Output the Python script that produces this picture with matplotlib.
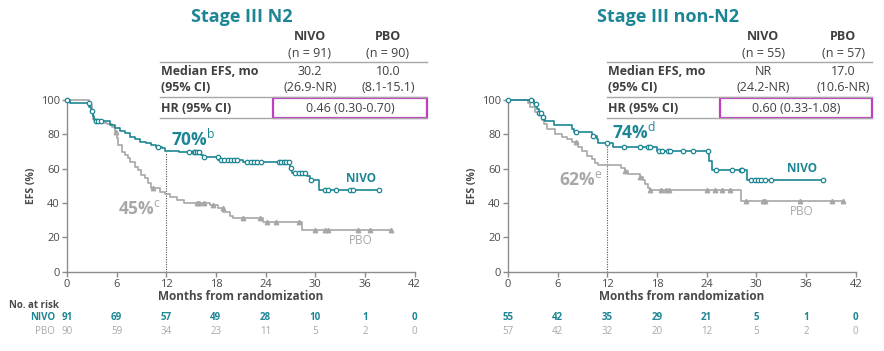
import numpy as np
import matplotlib
matplotlib.use("Agg")
import matplotlib.pyplot as plt
from matplotlib import transforms
from matplotlib.patches import Rectangle

plt.rcParams['font.family'] = ['Open Sans', 'DejaVu Sans']
plt.rcParams['mathtext.fontset'] = 'custom'
plt.rcParams['mathtext.rm'] = 'Open Sans'

W, H = 884, 351
TEAL = '#1d8694'
GRAY = '#a7a7a7'
DARK = '#404040'
MAGENTA = '#c03ec0'

# ---- Stage III N2 ----
n2_nivo_t = [0, 0.4, 2.7, 2.9, 3.1, 3.3, 3.5, 5.2, 5.8, 6.4, 7.0, 7.6, 8.2, 8.8, 9.6, 10.2,
             10.8, 11.45, 11.85, 13.5, 16.2, 16.4, 18.3, 21.3, 27.0, 27.2, 29.0, 29.4, 30.4, 37.7]
n2_nivo_s = [100, 98.5, 96, 93.5, 90.5, 88.5, 87.5, 85.5, 83.8, 82, 80.5, 78.6, 77.5, 75.8, 74.8, 73.8,
             72.8, 71.9, 70.5, 69.5, 68, 66.6, 65.3, 63.8, 60.6, 57.5, 55.5, 53.4, 47.8, 47.8]
n2_nivo_cens = [0, 2.6, 3.0, 3.5, 3.8, 4.1, 11.0, 14.7, 15.3, 15.5, 15.7, 16.0, 16.5, 18.2, 18.6, 19.0,
                19.4, 19.8, 20.2, 20.5, 21.7, 22.2, 22.6, 23.0, 23.5, 25.6, 25.9, 26.2, 26.5, 26.8,
                27.1, 27.6, 28.0, 28.4, 28.8, 29.5, 31.2, 31.5, 32.5, 34.2, 34.6, 37.7]
n2_pbo_t = [0, 2.6, 3.0, 3.2, 3.5, 4.5, 4.8, 5.4, 5.8, 6.0, 6.2, 6.6, 7.0, 7.4, 7.6, 8.2, 8.6, 9.0,
            9.4, 9.8, 10.2, 11.2, 11.85, 12.45, 13.3, 14.1, 17.3, 18.3, 18.9, 19.7, 20.1, 23.7, 28.4, 39.1]
n2_pbo_s = [100, 97, 93, 89, 87, 86.5, 86, 84.5, 81.5, 77.7, 73.8, 69.9, 68, 66, 64, 61.2, 59.2, 56.3,
            54.4, 51.5, 48.6, 46.6, 45, 43.7, 41.8, 39.8, 38.8, 36.9, 35, 32.6, 31.5, 29.1, 24.3, 24.3]
n2_pbo_cens = [5.9, 10.4, 15.7, 16.0, 16.5, 17.7, 18.8, 21.3, 23.3, 24.2, 25.2, 28.0, 30.0, 31.2,
               31.6, 35.2, 36.6, 39.1]
n2_risk_nivo = [91, 69, 57, 49, 28, 10, 1, 0]
n2_risk_pbo = [90, 59, 34, 23, 11, 5, 2, 0]

# ---- Stage III non-N2 ----
non_nivo_t = [0, 3.1, 3.5, 3.8, 4.1, 4.3, 4.5, 5.5, 7.7, 8.0, 10.1, 10.8, 10.9, 12.7, 18.0, 24.3,
              24.7, 28.9, 38.1]
non_nivo_s = [100, 97.5, 95, 92.5, 90, 88.5, 87.8, 85.7, 83.4, 81.3, 79.2, 77, 74.8, 72.5, 70.2, 64.5,
              59.2, 53.6, 53.6]
non_nivo_cens = [0, 2.8, 3.4, 3.8, 4.0, 4.2, 8.2, 10.3, 12.0, 14.0, 15.9, 16.9, 17.2, 18.3, 18.6, 19.3,
                 19.6, 21.1, 22.4, 24.2, 25.1, 27.0, 28.1, 28.3, 29.4, 29.8, 30.2, 30.6, 31.1, 31.8, 38.1]
non_pbo_t = [0, 2.4, 2.6, 3.3, 3.9, 4.1, 4.3, 4.7, 5.7, 6.5, 7.1, 7.7, 8.5, 8.9, 9.5, 10.1, 10.5, 10.9,
             13.7, 14.1, 14.5, 16.0, 16.3, 16.6, 16.9, 17.1, 28.1, 40.5]
non_pbo_s = [100, 98.5, 96, 93, 91, 88.3, 86.2, 83.2, 80.4, 78.4, 77, 75.5, 72.5, 70.2, 67.3, 65.4, 63.5,
             62.3, 60.2, 58.7, 57.1, 55, 53.3, 51, 49, 47.8, 41, 41]
non_pbo_cens = [8.2, 14.1, 16.0, 17.2, 18.5, 19.1, 19.4, 24.0, 25.0, 25.8, 26.8, 28.75, 30.8, 31.0,
                35.3, 39.1, 40.5]
non_risk_nivo = [55, 42, 35, 29, 21, 5, 1, 0]
non_risk_pbo = [57, 42, 32, 20, 12, 5, 2, 0]

risk_times = [0, 6, 12, 18, 24, 30, 36, 42]


def fx(x):
    return x / W


def fy(y):
    return 1 - y / H


def step_value(t, s, c):
    i = np.searchsorted(t, c, side='right') - 1
    return np.asarray(s)[i]


def draw_panel(fig, left_px, right_px, nivo_t, nivo_s, nivo_c, pbo_t, pbo_s, pbo_c,
               land_nivo, land_pbo, sup_n, sup_p, risk_n, risk_p, show_labels):
    ax = fig.add_axes([fx(left_px), fy(271.7), fx(right_px - left_px), (271.7 - 100) / H])
    ax.step(pbo_t, pbo_s, where='post', color=GRAY, lw=1.2, clip_on=False, zorder=2)
    ax.plot(pbo_c, step_value(pbo_t, pbo_s, pbo_c), ls='none', marker='^', ms=3.2,
            color=GRAY, clip_on=False, zorder=3)
    ax.step(nivo_t, nivo_s, where='post', color=TEAL, lw=1.2, clip_on=False, zorder=4)
    ax.plot(nivo_c, step_value(nivo_t, nivo_s, nivo_c), ls='none', marker='o', ms=3.2,
            mfc='white', mec=TEAL, mew=0.9, clip_on=False, zorder=5)
    ax.plot([12, 12], [0, land_nivo], ls=(0, (1, 1.2)), color='#555555', lw=0.8, zorder=1)

    ax.set_xlim(0, 42)
    ax.set_ylim(0, 100)
    ax.set_xticks(range(0, 43, 6))
    ax.set_yticks(range(0, 101, 20))
    for sp in ['top', 'right']:
        ax.spines[sp].set_visible(False)
    for sp in ['left', 'bottom']:
        ax.spines[sp].set_color('#8c8c8c')
        ax.spines[sp].set_linewidth(1.0)
    ax.tick_params(colors='#8c8c8c', labelcolor='#4a4a4a', labelsize=8, length=3.5, width=1.0, pad=1.5)
    ax.set_ylabel('EFS (%)', fontsize=7.5, fontweight='bold', color='#4a4a4a', labelpad=3)
    ax.set_xlabel('Months from randomization', fontsize=8.5, fontweight='bold', color='#4a4a4a',
                  labelpad=0)

    ax.text(12.6, land_nivo + 8, f'{land_nivo}%$^{{\\mathrm{{{sup_n}}}}}$', color=TEAL, fontsize=12.5,
            fontweight='bold', ha='left', va='center')
    ax.text(11.4, land_pbo - 8.5, f'{land_pbo}%$^{{\\mathrm{{{sup_p}}}}}$', color=GRAY, fontsize=12.5,
            fontweight='bold', ha='right', va='center')
    ax.text(35.5, nivo_s[-1] + 6.5, 'NIVO', color=TEAL, fontsize=8.5, fontweight='bold', ha='center',
            va='center')
    ax.text(35.5, pbo_s[-1] - 6, 'PBO', color=GRAY, fontsize=8.5, ha='center', va='center')

    tr = transforms.blended_transform_factory(ax.transData, fig.transFigure)
    for t, n, p in zip(risk_times, risk_n, risk_p):
        ax.text(t, fy(317.5), str(n), transform=tr, color=TEAL, fontsize=7, fontweight='bold',
                ha='center', va='center')
        ax.text(t, fy(331.5), str(p), transform=tr, color=GRAY, fontsize=7, ha='center', va='center')
    if show_labels:
        fig.text(fx(9), fy(305), 'No. at risk', color='#4a4a4a', fontsize=7, fontweight='bold',
                 ha='left', va='center')
        fig.text(fx(55), fy(317.5), 'NIVO', color=TEAL, fontsize=7, fontweight='bold', ha='right',
                 va='center')
        fig.text(fx(55), fy(331.5), 'PBO', color=GRAY, fontsize=7, ha='right', va='center')
    return ax


def draw_table(fig, title, title_x, x0, x1, c1, c2, box_x0, n_nivo, n_pbo, med_nivo, med_pbo, hr):
    fig.text(fx(title_x), fy(17), title, color=TEAL, fontsize=13, fontweight='bold', ha='center',
             va='center')
    for cx, name, n in [(c1, 'NIVO', n_nivo), (c2, 'PBO', n_pbo)]:
        fig.text(fx(cx), fy(37), name, color=DARK, fontsize=9, fontweight='bold', ha='center', va='center')
        fig.text(fx(cx), fy(53.5), f'(n = {n})', color=DARK, fontsize=9, ha='center', va='center')
    for y in [62, 97, 118]:
        fig.add_artist(plt.Line2D([fx(x0), fx(x1)], [fy(y), fy(y)], color='#a8a8a8', lw=1.0))
    fig.text(fx(x0 + 1), fy(71.5), 'Median EFS, mo', color=DARK, fontsize=9, fontweight='bold',
             ha='left', va='center')
    fig.text(fx(x0 + 1), fy(87.5), '(95% CI)', color=DARK, fontsize=9, fontweight='bold', ha='left',
             va='center')
    for cx, (m, ci) in [(c1, med_nivo), (c2, med_pbo)]:
        fig.text(fx(cx), fy(71.5), m, color=DARK, fontsize=9, ha='center', va='center')
        fig.text(fx(cx), fy(87.5), ci, color=DARK, fontsize=9, ha='center', va='center')
    fig.text(fx(x0 + 1), fy(108), 'HR (95% CI)', color=DARK, fontsize=9, fontweight='bold', ha='left',
             va='center')
    fig.add_artist(Rectangle((fx(box_x0), fy(118)), fx(x1 - box_x0), 20 / H, fill=False,
                             edgecolor=MAGENTA, lw=1.6, transform=fig.transFigure))
    fig.text(fx((box_x0 + x1) / 2), fy(108), hr, color=DARK, fontsize=9, ha='center', va='center')


fig = plt.figure(figsize=(W / 100, H / 100), dpi=100)

draw_panel(fig, 67, 414.5, n2_nivo_t, n2_nivo_s, n2_nivo_cens, n2_pbo_t, n2_pbo_s, n2_pbo_cens,
           70, 45, 'b', 'c', n2_risk_nivo, n2_risk_pbo, True)
draw_panel(fig, 508, 855.7, non_nivo_t, non_nivo_s, non_nivo_cens, non_pbo_t, non_pbo_s, non_pbo_cens,
           74, 62, 'd', 'e', non_risk_nivo, non_risk_pbo, False)

draw_table(fig, 'Stage III N2', 242, 160, 427, 310, 388, 273, 91, 90,
           ('30.2', '(26.9-NR)'), ('10.0', '(8.1-15.1)'), '0.46 (0.30-0.70)')
draw_table(fig, 'Stage III non-N2', 668, 607, 872, 763, 843, 720, 55, 57,
           ('NR', '(24.2-NR)'), ('17.0', '(10.6-NR)'), '0.60 (0.33-1.08)')

fig.savefig('out.png', dpi=100)
